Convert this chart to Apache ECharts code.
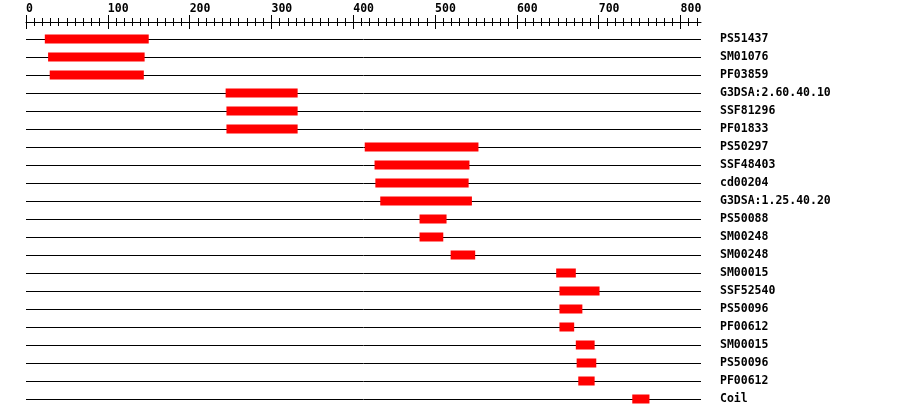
<!DOCTYPE html>
<html>
<head>
<meta charset="utf-8">
<script src="https://cdn.jsdelivr.net/npm/echarts@6/dist/echarts.min.js"></script>
<style>html,body{margin:0;padding:0;background:#fff}#c{width:900px;height:418px}</style>
</head>
<body>
<div id="c"></div>
<script>
const categories = ["PS51437","SM01076","PF03859","G3DSA:2.60.40.10","SSF81296","PF01833","PS50297","SSF48403","cd00204","G3DSA:1.25.40.20","PS50088","SM00248","SM00248","SM00015","SSF52540","PS50096","PF00612","SM00015","PS50096","PF00612","Coil"];
const starts = [23,27,29,244,245,245,414,426,427,433,481,481,519,648,652,652,652,672,673,675,741];
const ends   = [150,145,144,332,332,332,553,542,541,545,514,510,549,672,701,680,670,695,697,695,762];
const axisMax = 825;
const majorMax = 800;
const minorMax = 820;

const LEFT = 26, RIGHT_EDGE = 701, TOP = 39, BOTTOM_EDGE = 399, RULER_Y = 22;
const scale = (RIGHT_EDGE - LEFT) / axisMax;
const FONT = {fontFamily: 'DejaVu Sans Mono', fontWeight: 'bold', fontSize: 11.5, color: '#000'};

const data = categories.map((c, i) => [starts[i], ends[i], i]);

const chart = echarts.init(document.getElementById('c'), null, {renderer: 'canvas'});
chart.setOption({
  animation: false,
  backgroundColor: '#fff',
  grid: [
    {left: LEFT, width: RIGHT_EDGE - LEFT, top: TOP, height: BOTTOM_EDGE - TOP},
    {left: LEFT, width: majorMax * scale, top: RULER_Y, height: 0},
    {left: LEFT, width: minorMax * scale, top: RULER_Y, height: 0}
  ],
  xAxis: [
    {gridIndex: 0, type: 'value', position: 'top', offset: TOP - RULER_Y, min: 0, max: axisMax,
     axisLine: {show: true, lineStyle: {color: '#000', width: 1}}, axisTick: {show: false},
     axisLabel: {show: false}, splitLine: {show: false}},
    {gridIndex: 1, type: 'value', position: 'top', min: 0, max: majorMax, interval: 100,
     axisLine: {show: false}, axisTick: {show: true, length: 7, lineStyle: {color: '#000'}},
     axisLabel: Object.assign({show: true, align: 'left', margin: 7, showMaxLabel: true}, FONT),
     splitLine: {show: false}},
    {gridIndex: 1, type: 'value', position: 'bottom', min: 0, max: majorMax, interval: 100,
     axisLine: {show: false}, axisTick: {show: true, length: 7, lineStyle: {color: '#000'}},
     axisLabel: {show: false}, splitLine: {show: false}},
    {gridIndex: 2, type: 'value', position: 'top', min: 0, max: minorMax, interval: 10,
     axisLine: {show: false}, axisTick: {show: true, length: 4, lineStyle: {color: '#000'}},
     axisLabel: {show: false}, splitLine: {show: false}},
    {gridIndex: 2, type: 'value', position: 'bottom', min: 0, max: minorMax, interval: 10,
     axisLine: {show: false}, axisTick: {show: true, length: 4, lineStyle: {color: '#000'}},
     axisLabel: {show: false}, splitLine: {show: false}}
  ],
  yAxis: [
    {gridIndex: 0, type: 'category', data: categories, inverse: true, boundaryGap: false, position: 'right',
     axisLine: {show: false}, axisTick: {show: false},
     axisLabel: Object.assign({show: true, align: 'left', margin: 19, interval: 0, padding: [2, 0, 0, 0]}, FONT),
     splitLine: {show: true, interval: 0, lineStyle: {color: '#000', width: 1}}},
    {gridIndex: 1, type: 'value', show: false},
    {gridIndex: 2, type: 'value', show: false}
  ],
  series: [{
    type: 'custom',
    xAxisIndex: 0, yAxisIndex: 0,
    encode: {x: [0, 1], y: 2},
    data: data,
    renderItem: function (params, api) {
      const p0 = api.coord([api.value(0), api.value(2)]);
      const p1 = api.coord([api.value(1), api.value(2)]);
      const h = 9;
      return {type: 'rect', shape: {x: p0[0], y: p0[1] - h / 2, width: p1[0] - p0[0], height: h},
              style: {fill: '#ff0000'}};
    }
  }]
});
</script>
</body>
</html>
